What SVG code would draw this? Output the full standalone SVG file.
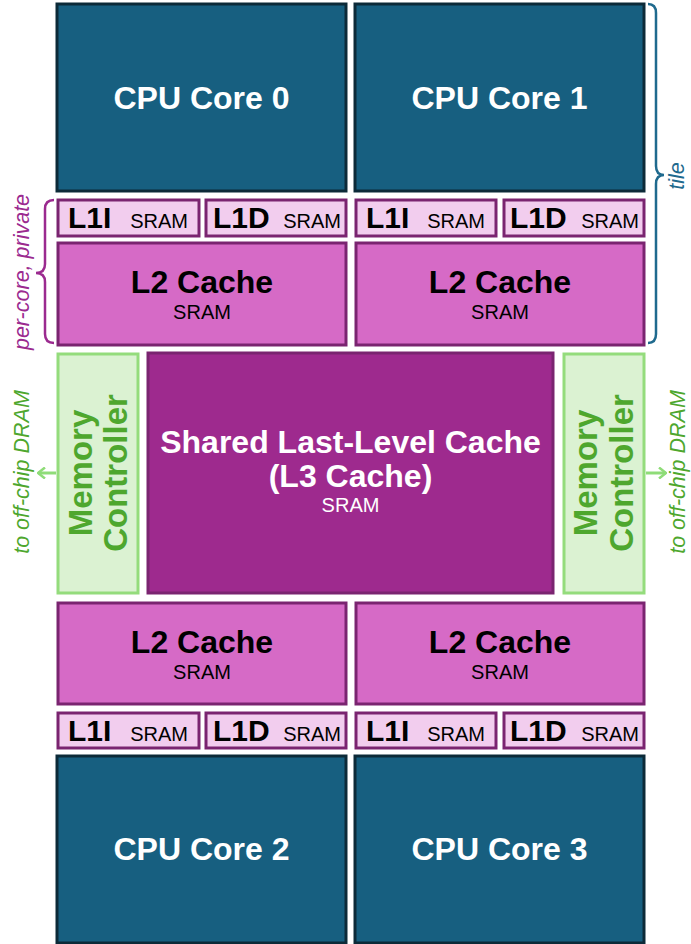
<svg xmlns="http://www.w3.org/2000/svg" width="691" height="944" viewBox="0 0 691 944">
<defs>
<style>
.cpu{fill:#175f80;stroke:#0c2a38;stroke-width:3}
.l1{fill:#f2cdee;stroke:#7a2470;stroke-width:3}
.l2{fill:#d66ac6;stroke:#7a2470;stroke-width:3}
.l3{fill:#9e2a8e;stroke:#7a2470;stroke-width:3}
.mc{fill:#dbf2d2;stroke:#94dc7c;stroke-width:3}
text{font-family:"Liberation Sans",Arial,sans-serif}
.cput{font-size:32px;font-weight:bold;fill:#ffffff;text-anchor:middle}
.l1t{font-size:30px;font-weight:bold;fill:#000000}
.sram{font-size:20px;fill:#000000}
.l2t{font-size:32px;font-weight:bold;fill:#000000;text-anchor:middle}
.l3t{font-size:32px;font-weight:bold;fill:#ffffff;text-anchor:middle}
.mct{font-size:33px;font-weight:bold;fill:#4ea72e;text-anchor:middle}
.side{font-size:21.5px;font-style:italic;text-anchor:middle}
.arr{stroke:#8fdc78;stroke-width:3;fill:none}
</style>
<marker id="chev" viewBox="0 0 10 12" refX="9" refY="6" markerWidth="10" markerHeight="12" markerUnits="userSpaceOnUse" orient="auto">
<path d="M2,0.5 L9,6 L2,11.5" fill="none" stroke="#8fdc78" stroke-width="2.5"/>
</marker>
</defs>
<rect width="691" height="944" fill="#ffffff"/>

<g id="cpu0"><rect class="cpu" x="57" y="4" width="289" height="187"/><text class="cput" x="201.5" y="109">CPU Core 0</text></g>
<g id="cpu1"><rect class="cpu" x="355" y="4" width="289" height="187"/><text class="cput" x="499.5" y="109">CPU Core 1</text></g>

<g id="l1i0"><rect class="l1" x="58" y="200" width="141" height="36"/><text class="l1t" x="68" y="228">L1I</text><text class="sram" x="188" y="228" text-anchor="end">SRAM</text></g>
<g id="l1d0"><rect class="l1" x="206" y="200" width="140" height="36"/><text class="l1t" x="213" y="228">L1D</text><text class="sram" x="341" y="228" text-anchor="end">SRAM</text></g>
<g id="l1i1"><rect class="l1" x="356" y="200" width="140" height="36"/><text class="l1t" x="366" y="228">L1I</text><text class="sram" x="485" y="228" text-anchor="end">SRAM</text></g>
<g id="l1d1"><rect class="l1" x="504" y="200" width="140" height="36"/><text class="l1t" x="510" y="228">L1D</text><text class="sram" x="639" y="228" text-anchor="end">SRAM</text></g>

<g id="l2_0"><rect class="l2" x="58" y="243" width="288" height="102"/><text class="l2t" x="202" y="293">L2 Cache</text><text class="sram" x="202" y="319" text-anchor="middle">SRAM</text></g>
<g id="l2_1"><rect class="l2" x="356" y="243" width="288" height="102"/><text class="l2t" x="500" y="293">L2 Cache</text><text class="sram" x="500" y="319" text-anchor="middle">SRAM</text></g>

<g id="mc_left"><rect class="mc" x="58" y="354" width="80" height="239"/>
<g transform="translate(97.5,473) rotate(-90)"><text class="mct" x="0" y="-6">Memory</text><text class="mct" x="0" y="29">Controller</text></g></g>
<g id="l3"><rect class="l3" x="148" y="353" width="405" height="240"/>
<text class="l3t" x="350.5" y="453">Shared Last-Level Cache</text>
<text class="l3t" x="350.5" y="487">(L3 Cache)</text>
<text class="sram" x="350.5" y="512" text-anchor="middle" style="fill:#ffffff">SRAM</text></g>
<g id="mc_right"><rect class="mc" x="564" y="354" width="80" height="239"/>
<g transform="translate(604,473) rotate(-90)"><text class="mct" x="0" y="-7">Memory</text><text class="mct" x="0" y="29">Controller</text></g></g>

<g id="l2_2"><rect class="l2" x="58" y="603" width="288" height="101"/><text class="l2t" x="202" y="653">L2 Cache</text><text class="sram" x="202" y="679" text-anchor="middle">SRAM</text></g>
<g id="l2_3"><rect class="l2" x="356" y="603" width="288" height="101"/><text class="l2t" x="500" y="653">L2 Cache</text><text class="sram" x="500" y="679" text-anchor="middle">SRAM</text></g>

<g id="l1i2"><rect class="l1" x="58" y="713" width="141" height="35"/><text class="l1t" x="68" y="741">L1I</text><text class="sram" x="188" y="741" text-anchor="end">SRAM</text></g>
<g id="l1d2"><rect class="l1" x="206" y="713" width="140" height="35"/><text class="l1t" x="213" y="741">L1D</text><text class="sram" x="341" y="741" text-anchor="end">SRAM</text></g>
<g id="l1i3"><rect class="l1" x="356" y="713" width="140" height="35"/><text class="l1t" x="366" y="741">L1I</text><text class="sram" x="485" y="741" text-anchor="end">SRAM</text></g>
<g id="l1d3"><rect class="l1" x="504" y="713" width="140" height="35"/><text class="l1t" x="510" y="741">L1D</text><text class="sram" x="639" y="741" text-anchor="end">SRAM</text></g>

<g id="cpu2"><rect class="cpu" x="57" y="756" width="289" height="187"/><text class="cput" x="201.5" y="860">CPU Core 2</text></g>
<g id="cpu3"><rect class="cpu" x="355" y="756" width="289" height="187"/><text class="cput" x="499.5" y="860">CPU Core 3</text></g>

<g id="connectors">
<line class="arr" x1="56" y1="473" x2="38" y2="473" marker-end="url(#chev)"/>
<line class="arr" x1="646" y1="473" x2="666" y2="473" marker-end="url(#chev)"/>
</g>

<g id="tile_brace">
<path d="M648,4 Q656,4 656,13 L656,166 Q656,175 664,175 Q656,175 656,184 L656,334 Q656,343 648,343" fill="none" stroke="#1f6a8e" stroke-width="2.5"/>
<text class="side" transform="translate(684,176) rotate(-90)" x="0" y="0" fill="#1f6a8e">tile</text>
</g>
<g id="percore_brace">
<path d="M54,200 Q45,200 45,209 L45,264 Q45,273 36,273 Q45,273 45,282 L45,334 Q45,343 54,343" fill="none" stroke="#9b2a8f" stroke-width="2.5"/>
<text class="side" transform="translate(29,272) rotate(-90)" x="0" y="0" fill="#9b2a8f">per-core, private</text>
</g>
<g id="dram_labels">
<text class="side" transform="translate(29,472) rotate(-90)" x="0" y="0" fill="#4ea72e">to off-chip DRAM</text>
<text class="side" transform="translate(685,472) rotate(-90)" x="0" y="0" fill="#4ea72e">to off-chip DRAM</text>
</g>
</svg>
